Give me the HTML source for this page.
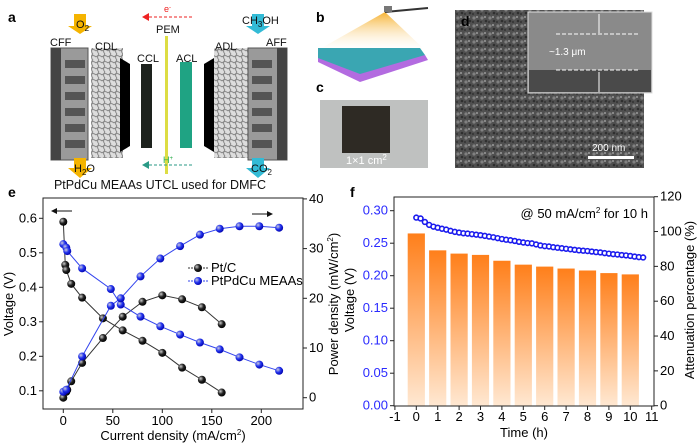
<!DOCTYPE html>
<html><head><meta charset="utf-8"><style>
body{margin:0;background:#fff}
svg{display:block;font-family:"Liberation Sans",sans-serif}
</style></head><body>
<svg id="fig" width="700" height="444" viewBox="0 0 700 444">
<defs>
<linearGradient id="barg" x1="0" y1="0" x2="0" y2="1"><stop offset="0" stop-color="#ff7f1a"/><stop offset="1" stop-color="#ffe8d2"/></linearGradient>
<radialGradient id="bk" cx="0.35" cy="0.35" r="0.7"><stop offset="0" stop-color="#ccc"/><stop offset="0.5" stop-color="#222"/><stop offset="1" stop-color="#000"/></radialGradient>
<radialGradient id="bl" cx="0.35" cy="0.35" r="0.7"><stop offset="0" stop-color="#ccd"/><stop offset="0.5" stop-color="#2233ee"/><stop offset="1" stop-color="#0000aa"/></radialGradient>
<linearGradient id="cone" x1="0" y1="0" x2="0" y2="1"><stop offset="0" stop-color="#f6b333"/><stop offset="1" stop-color="#fff" stop-opacity="0.2"/></linearGradient>
<pattern id="sem" width="8" height="8" patternUnits="userSpaceOnUse"><rect width="8" height="8" fill="#5a5a5a"/><circle cx="2" cy="2" r="1.6" fill="#9a9a9a"/><circle cx="6" cy="5" r="1.3" fill="#2e2e2e"/><circle cx="5" cy="1" r="1" fill="#bbb"/><circle cx="1" cy="6" r="1" fill="#333"/></pattern>
<pattern id="fib" width="6" height="6" patternUnits="userSpaceOnUse"><rect width="6" height="6" fill="#ddd"/><path d="M0 3 Q3 0 6 3 M3 0 Q0 3 3 6" stroke="#888" fill="none"/></pattern>
</defs>

<g>
<text x="8" y="22" font-size="14" font-weight="bold">a</text>
<rect x="51" y="48" width="37" height="112" fill="#9a9a9a" stroke="#555"/>
<rect x="51" y="48" width="10" height="112" fill="#444"/>
<g fill="#555"><rect x="65" y="60" width="20" height="8"/><rect x="65" y="76" width="20" height="8"/><rect x="65" y="92" width="20" height="8"/><rect x="65" y="108" width="20" height="8"/><rect x="65" y="124" width="20" height="8"/><rect x="65" y="140" width="20" height="8"/></g>
<rect x="91" y="48" width="32" height="110" fill="url(#fib)"/>
<polygon points="120,58 130,64 130,146 120,152" fill="#000"/>
<rect x="141" y="64" width="11" height="84" fill="#1d221d"/>
<rect x="165" y="36" width="3" height="138" fill="#dddd44"/>
<rect x="180" y="62" width="12" height="86" fill="#1fa383"/>
<polygon points="214,58 204,64 204,146 214,152" fill="#000"/>
<rect x="214" y="48" width="34" height="110" fill="url(#fib)"/>
<rect x="248" y="48" width="39" height="112" fill="#9a9a9a" stroke="#555"/>
<rect x="277" y="48" width="10" height="112" fill="#444"/>
<g fill="#555"><rect x="252" y="60" width="20" height="8"/><rect x="252" y="76" width="20" height="8"/><rect x="252" y="92" width="20" height="8"/><rect x="252" y="108" width="20" height="8"/><rect x="252" y="124" width="20" height="8"/><rect x="252" y="140" width="20" height="8"/></g>
<polygon points="74,14 86,14 86,26 92,26 80,34 68,26 74,26" fill="#f5b400"/>
<polygon points="74,158 86,158 86,168 92,168 80,178 68,168 74,168" fill="#f5b400"/>
<polygon points="252,14 264,14 264,26 270,26 258,34 246,26 252,26" fill="#33bbd6"/>
<polygon points="252,158 264,158 264,168 270,168 258,178 246,168 252,168" fill="#33bbd6"/>
<g font-size="11" fill="#111">
<text x="76" y="28">O<tspan font-size="8" dy="3">2</tspan></text>
<text x="74" y="172">H<tspan font-size="8" dy="3">2</tspan><tspan dy="-3">O</tspan></text>
<text x="242" y="24">CH<tspan font-size="8" dy="3">3</tspan><tspan dy="-3">OH</tspan></text>
<text x="251" y="172">CO<tspan font-size="8" dy="3">2</tspan></text>
<text x="50" y="46">CFF</text>
<text x="95" y="50">CDL</text>
<text x="137" y="62">CCL</text>
<text x="156" y="33">PEM</text>
<text x="176" y="62">ACL</text>
<text x="215" y="50">ADL</text>
<text x="266" y="46">AFF</text>
</g>
<line x1="192" y1="17" x2="148" y2="17" stroke="#ee2222" stroke-dasharray="3,2"/><polygon points="142,17 149,13 149,21" fill="#ee2222"/>
<text x="164" y="12" font-size="9" fill="#ee2222">e<tspan font-size="6" dy="-3">-</tspan></text>
<line x1="192" y1="165" x2="148" y2="165" stroke="#2a9a86" stroke-dasharray="3,2"/><polygon points="142,165 149,161 149,169" fill="#2a9a86"/>
<text x="163" y="163" font-size="9" fill="#22aa44">H<tspan font-size="6" dy="-3">+</tspan></text>
<text x="160" y="189" font-size="12.5" text-anchor="middle" fill="#111">PtPdCu MEAAs UTCL used for DMFC</text>
</g>

<g>
<text x="316" y="22" font-size="14" font-weight="bold">b</text>
<polygon points="385,12 318,50 425,50" fill="url(#cone)"/>
<polygon points="318,55 425,55 428,60 360,82 318,62" fill="#b36be0"/>
<polygon points="318,48 420,48 425,55 360,74 318,58" fill="#3aa6b2"/>
<line x1="385" y1="12" x2="428" y2="8" stroke="#333" stroke-width="2"/>
<rect x="384" y="6" width="8" height="6" fill="#777"/>
</g>
<g>
<text x="316" y="92" font-size="14" font-weight="bold">c</text>
<rect x="320" y="100" width="108" height="68" fill="#bfc1c0"/>
<rect x="342" y="106" width="48" height="47" fill="#2e2a24"/>
<text x="346" y="164" font-size="11" fill="#fff">1×1 cm<tspan font-size="8" dy="-4">2</tspan></text>
</g>
<g>
<rect x="455" y="10" width="189" height="158" fill="url(#sem)"/>
<rect x="455" y="10" width="189" height="158" fill="#333" opacity="0.25"/>
<text x="461" y="26" font-size="14" font-weight="bold">d</text>
<rect x="528" y="12" width="124" height="81" fill="#8a8a8a" stroke="#ddd"/>
<rect x="529" y="70" width="122" height="22" fill="#4a4a4a"/>
<line x1="556" y1="34" x2="640" y2="34" stroke="#fff" stroke-dasharray="4,2"/>
<line x1="556" y1="70" x2="640" y2="70" stroke="#fff" stroke-dasharray="4,2"/>
<line x1="599" y1="14" x2="599" y2="33" stroke="#fff"/><line x1="599" y1="72" x2="599" y2="92" stroke="#fff"/>
<text x="549" y="55" font-size="10" fill="#fff">~1.3 μm</text>
<text x="592" y="151" font-size="10" fill="#fff">200 nm</text>
<rect x="588" y="156" width="46" height="3" fill="#fff"/>
</g>

<g id="pe"></g>
<g id="pf"></g>
</svg>
<script>
const NS="http://www.w3.org/2000/svg";
function mk(p,t,a,txt){const e=document.createElementNS(NS,t);for(const k in a)e.setAttribute(k,a[k]);if(txt!==undefined)e.textContent=txt;p.appendChild(e);return e;}

const ptcX=[0,2,3,8,19,40,60,80,100,120,140,160];
const ptcV=[0.59,0.465,0.45,0.41,0.37,0.31,0.275,0.245,0.21,0.167,0.132,0.095];
const ptcPX=[0,3,4,8,19,40,60,80,100,120,140,160];
const ptcP=[0,1.2,1.6,3.3,7,12,16.3,19.3,20.6,19.8,18.2,14.8];
const meaX=[0,3,4,19,48,58,78,98,118,138,158,178,198,218];
const meaV=[0.525,0.515,0.505,0.455,0.395,0.35,0.315,0.287,0.263,0.24,0.22,0.197,0.176,0.158];
const meaPX=[0,3,19,48,58,78,98,118,138,158,178,198,218];
const meaP=[1.2,1.6,8.3,18.5,20,24.4,28,30.5,32.8,34,34.5,34.5,34.2];
const eXTicks=[0,50,100,150,200];
const eYTicks=[0.1,0.2,0.3,0.4,0.5,0.6];
const eY2Ticks=[0,10,20,30,40];

const pe=document.getElementById('pe');
const ex=v=>63.3+v*0.99, ey=v=>218.3+(0.6-v)*345, ey2=v=>397.7-v*4.97;
let r=mk(pe,'rect',{x:43,y:198,width:260,height:211,fill:'none',stroke:'#222'});


eXTicks.forEach(t=>{mk(pe,'line',{x1:ex(t),x2:ex(t),y1:409,y2:413,stroke:'#222'});
 const l=mk(pe,'text',{x:ex(t),y:425,'font-size':13,'text-anchor':'middle'},t);
 
 });
eYTicks.forEach(t=>{mk(pe,'line',{x1:39,x2:43,y1:ey(t),y2:ey(t),stroke:'#222'});
 const l=mk(pe,'text',{x:37,y:ey(t)+4,'font-size':13,'text-anchor':'end'},t.toFixed(1));
 
 });
eY2Ticks.forEach(t=>{mk(pe,'line',{x1:303,x2:307,y1:ey2(t),y2:ey2(t),stroke:'#222'});
 const l=mk(pe,'text',{x:309,y:ey2(t)+4,'font-size':13},t);
 
 });
function series(xs,ys,fx,fy,col,grad,name){
 mk(pe,'polyline',{points:xs.map((x,i)=>fx(x)+','+fy(ys[i])).join(' '),fill:'none',stroke:col,'stroke-width':1});
 xs.forEach((x,i)=>{const c=mk(pe,'circle',{cx:fx(x),cy:fy(ys[i]),r:4,fill:grad});
  
  });
}
series(ptcX,ptcV,ex,ey,'#333','url(#bk)','ptc-voltage-point');
series(ptcPX,ptcP,ex,ey2,'#333','url(#bk)','ptc-power-point');
series(meaX,meaV,ex,ey,'#3344ee','url(#bl)','meaa-voltage-point');
series(meaPX,meaP,ex,ey2,'#3344ee','url(#bl)','meaa-power-point');
let t=mk(pe,'text',{x:8,y:197,'font-size':14,'font-weight':'bold'},'e');
t=mk(pe,'text',{x:173,y:440,'font-size':13,'text-anchor':'middle'},'Current density (mA/cm');mk(t,'tspan',{'font-size':8,dy:-5},'2');mk(t,'tspan',{dy:5},')');

t=mk(pe,'text',{transform:'translate(13,304) rotate(-90)','font-size':13,'text-anchor':'middle'},'Voltage (V)');

t=mk(pe,'text',{transform:'translate(338,304) rotate(-90)','font-size':13,'text-anchor':'middle'},'Power density (mW/cm');mk(t,'tspan',{'font-size':8,dy:-5},'2');mk(t,'tspan',{dy:5},')');

mk(pe,'line',{x1:55,x2:72,y1:211,y2:211,stroke:'#111'});mk(pe,'polygon',{points:'51,211 57,208 57,214',fill:'#111'});
mk(pe,'line',{x1:252,x2:268,y1:214,y2:214,stroke:'#111'});mk(pe,'polygon',{points:'273,214 267,211 267,217',fill:'#111'});
[['Pt/C','#333','url(#bk)',268],['PtPdCu MEAAs','#3344ee','url(#bl)',281]].forEach(L=>{
 const g=mk(pe,'g',{});
 
 
 mk(g,'line',{x1:188,x2:208,y1:L[3],y2:L[3],stroke:L[1],'stroke-dasharray':'2,1'});
 mk(g,'circle',{cx:198,cy:L[3],r:4,fill:L[2]});
 mk(g,'text',{x:211,y:L[3]+4,'font-size':13},L[0]);
});

const fHours=[0,1,2,3,4,5,6,7,8,9,10];
const fVolt=[0.265,0.239,0.234,0.232,0.223,0.217,0.214,0.211,0.208,0.204,0.202];
const fTime=[0,0.2,0.4,0.6,0.8,1,1.2,1.4,1.6,1.8,2,2.2,2.4,2.6,2.8,3,3.2,3.4,3.6,3.8,4,4.2,4.4,4.6,4.8,5,5.2,5.4,5.6,5.8,6,6.2,6.4,6.6,6.8,7,7.2,7.4,7.6,7.8,8,8.2,8.4,8.6,8.8,9,9.2,9.4,9.6,9.8,10,10.2,10.4,10.6];
const fPct=[108,107.5,105.5,103.8,102.8,102.2,101.6,101.1,100.4,99.8,99.4,99,98.8,98.5,98.2,97.9,97.5,97.1,96.7,96.2,95.7,95.3,95,94.6,94.1,93.7,93.4,93.2,92.6,92,91.6,91.4,91,90.7,90.4,90.1,89.8,89.5,89.2,89,88.8,88.5,88.2,88,87.6,87.3,87,86.8,86.5,86.3,86,85.6,85.3,85.1];
const fXTicks=[-1,0,1,2,3,4,5,6,7,8,9,10,11];
const fYTicks=[0,0.05,0.1,0.15,0.2,0.25,0.3];
const fY2Ticks=[0,20,40,60,80,100,120];

const pf=document.getElementById('pf');
const fx=v=>416.3+v*21.4, fy=v=>405.7-v*650, fy2=v=>405.7-v*1.7417;
fHours.forEach((h,i)=>{const b=mk(pf,'rect',{x:fx(h)-8.6,y:fy(fVolt[i]),width:17.2,height:fy(0)-fy(fVolt[i]),fill:'url(#barg)'});
 
 });
r=mk(pf,'rect',{x:394,y:197,width:260,height:209,fill:'none',stroke:'#222'});


fXTicks.forEach(t=>{mk(pf,'line',{x1:fx(t),x2:fx(t),y1:406,y2:410,stroke:'#222'});
 const l=mk(pf,'text',{x:fx(t),y:421,'font-size':13,'text-anchor':'middle'},t);
 
 });
fYTicks.forEach(t=>{mk(pf,'line',{x1:390,x2:394,y1:fy(t),y2:fy(t),stroke:'#222'});
 const l=mk(pf,'text',{x:388,y:fy(t)+4,'font-size':13,'text-anchor':'end',fill:'#2a2aff'},t.toFixed(2));
 
 });
fY2Ticks.forEach(t=>{mk(pf,'line',{x1:654,x2:658,y1:fy2(t),y2:fy2(t),stroke:'#222'});
 const l=mk(pf,'text',{x:660,y:fy2(t)+4,'font-size':13},t);
 
 });
mk(pf,'polyline',{points:fTime.map((x,i)=>fx(x)+','+fy2(fPct[i])).join(' '),fill:'none',stroke:'#1a1aee'});
fTime.forEach((x,i)=>{const c=mk(pf,'circle',{cx:fx(x),cy:fy2(fPct[i]),r:2.4,fill:'#fff',stroke:'#1a1aee','stroke-width':1.6});
 
 });
mk(pf,'text',{x:350,y:197,'font-size':14,'font-weight':'bold'},'f');
t=mk(pf,'text',{x:648,y:218,'font-size':13,'text-anchor':'end'},'@ 50 mA/cm');mk(t,'tspan',{'font-size':8,dy:-5},'2');mk(t,'tspan',{dy:5},' for 10 h');

t=mk(pf,'text',{x:524,y:437,'font-size':13,'text-anchor':'middle'},'Time (h)');

t=mk(pf,'text',{transform:'translate(354,300) rotate(-90)','font-size':13,'text-anchor':'middle'},'Voltage (V)');

t=mk(pf,'text',{transform:'translate(694,300) rotate(-90)','font-size':13,'text-anchor':'middle'},'Attenuation percentage (%)');

</script>
</body></html>
